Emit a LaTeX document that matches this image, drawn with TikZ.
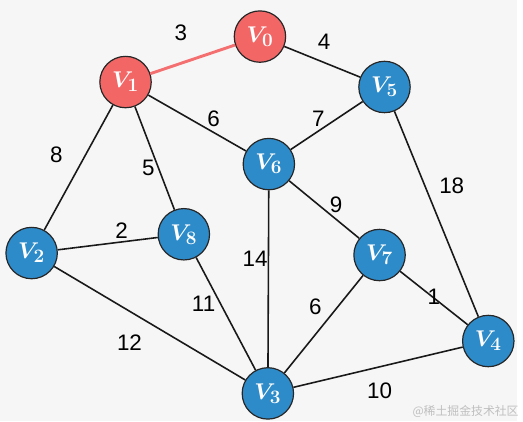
\documentclass[tikz,border=0pt]{standalone}
\usepackage{fontspec}
\setmainfont{Liberation Sans}
\newfontfamily\cjk{Noto Sans CJK SC}
\definecolor{bgc}{HTML}{F6F6F6}
\definecolor{vblue}{HTML}{2E8BC9}
\definecolor{vred}{HTML}{F26666}
\definecolor{ered}{HTML}{F47070}
\begin{document}
\begin{tikzpicture}[x=0.75pt,y=-0.75pt,
  vtx/.style={circle,draw=black!85,line width=0.9pt,fill=vblue,minimum size=39pt,inner sep=0pt,
    text=white,font=\fontsize{19}{19}\selectfont\boldmath},
  hot/.style={vtx,fill=vred},
  edg/.style={line width=1.2pt,black!90},
  wt/.style={font=\fontsize{17}{17}\selectfont,inner sep=1pt}]
\fill[bgc] (0,0) rectangle (523,426);
\node[hot] (v0) at (263,37) {$V_0$};
\node[hot] (v1) at (127,83) {$V_1$};
\node[vtx] (v5) at (389,88) {$V_5$};
\node[vtx] (v6) at (272,166) {$V_6$};
\node[vtx] (v2) at (32,256) {$V_2$};
\node[vtx] (v8) at (186,237) {$V_8$};
\node[vtx] (v7) at (384,258) {$V_7$};
\node[vtx] (v4) at (494,345) {$V_4$};
\node[vtx] (v3) at (271,398) {$V_3$};
\draw[line width=2.2pt,ered] (v0) -- (v1);
\draw[edg] (v0) -- (v5);
\draw[edg] (v1) -- (v6);
\draw[edg] (v5) -- (v6);
\draw[edg] (v1) -- (v2);
\draw[edg] (v1) -- (v8);
\draw[edg] (v2) -- (v8);
\draw[edg] (v5) -- (v4);
\draw[edg] (v6) -- (v7);
\draw[edg] (v6) -- (v3);
\draw[edg] (v8) -- (v3);
\draw[edg] (v7) -- (v3);
\draw[edg] (v7) -- (v4);
\draw[edg] (v2) -- (v3);
\draw[edg] (v3) -- (v4);
\node[wt] (w01) at (183,33) {3};
\node[wt] (w05) at (328,42) {4};
\node[wt] (w16) at (216,120) {6};
\node[wt] (w56) at (322,120) {7};
\node[wt] (w12) at (57,157) {8};
\node[wt] (w18) at (150,170) {5};
\node[wt] (w28) at (123,233) {2};
\node[wt] (w54) at (457,188) {18};
\node[wt] (w67) at (340,207) {9};
\node[wt] (w63) at (258,262) {14};
\node[wt] (w83) at (206,307) {11};
\node[wt] (w73) at (319,310) {6};
\node[wt] (w74) at (439,300) {1};
\node[wt] (w23) at (131,347) {12};
\node[wt] (w34) at (384,395) {10};
\node[font=\cjk\fontsize{9}{9}\selectfont,text=black!25] (mark) at (471,416) {@稀土掘金技术社区};
\end{tikzpicture}
\end{document}
